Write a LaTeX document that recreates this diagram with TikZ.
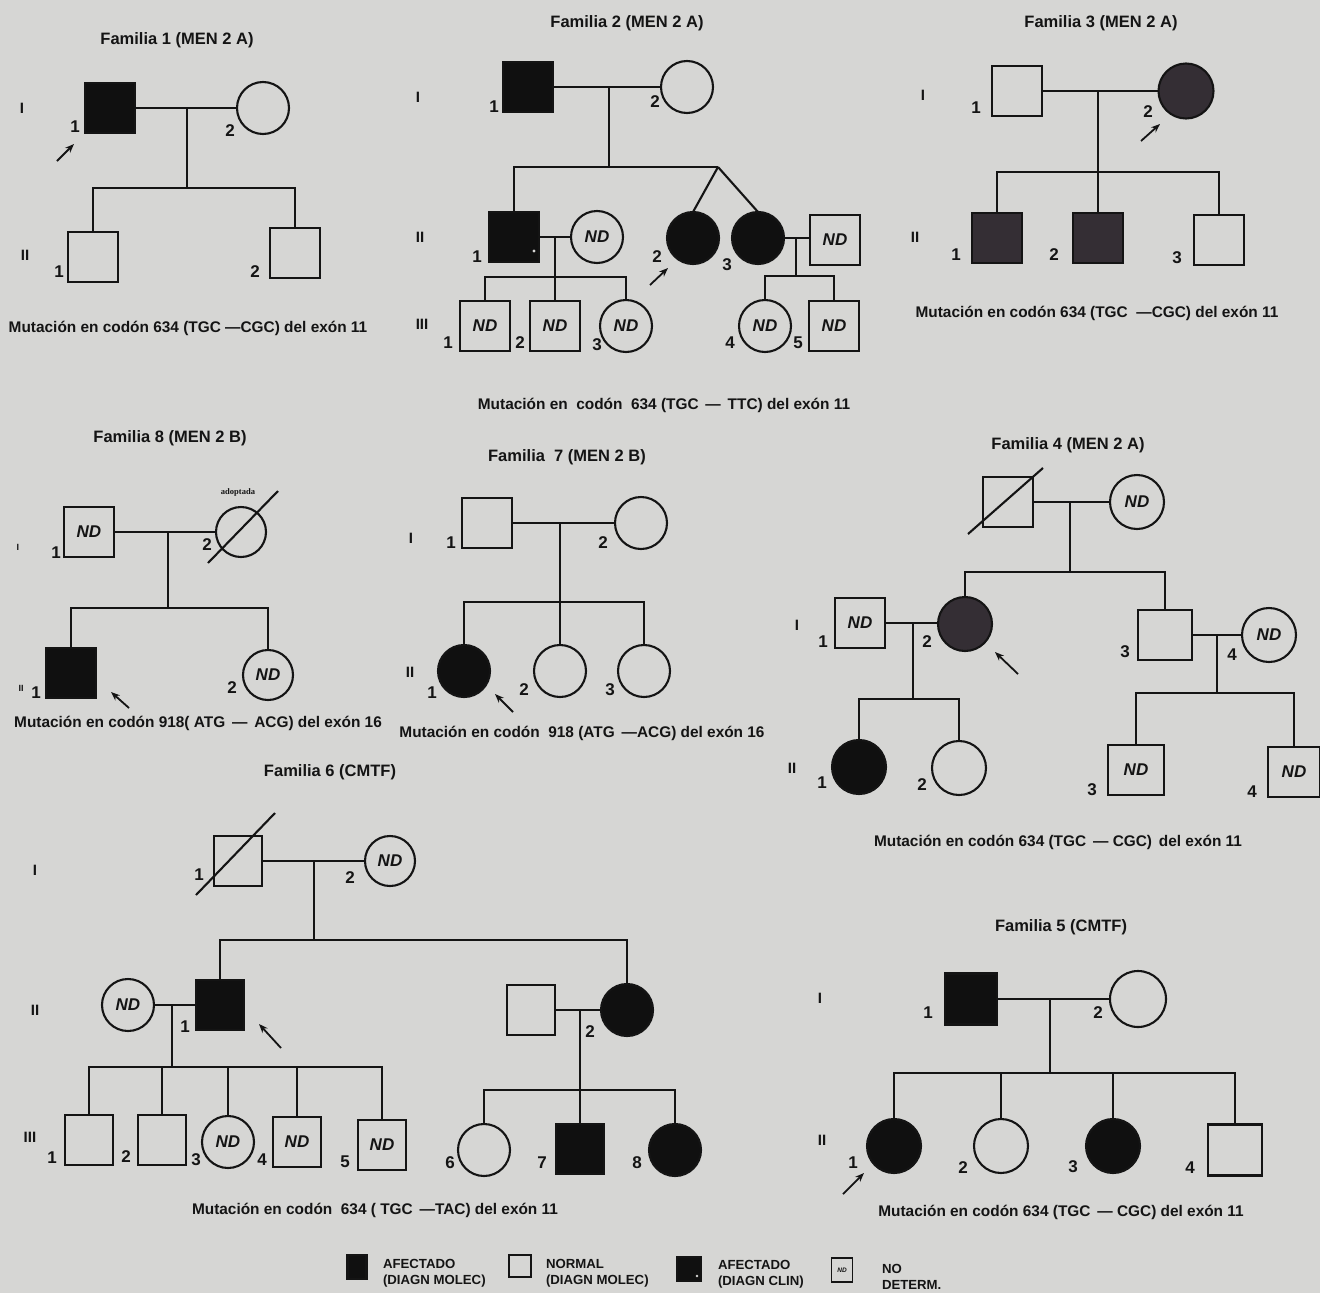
\documentclass[tikz,border=0pt]{standalone}
\usepackage{fontspec}
\setmainfont{Liberation Sans}
\newfontfamily\adserif{Liberation Serif}
\usetikzlibrary{arrows.meta}
\definecolor{bgc}{RGB}{214,214,212}
\definecolor{afc}{RGB}{16,16,16}
\definecolor{dkc}{RGB}{52,46,52}
\definecolor{lnc}{RGB}{20,20,20}
\newcommand\ttlf{\fontsize{16.5}{18}\selectfont\bfseries}
\newcommand\mutf{\fontsize{15.4}{17}\selectfont\bfseries}
\newcommand\numf{\fontsize{17}{19}\selectfont\bfseries}
\newcommand\ndfn{\fontsize{17}{19}\selectfont\bfseries\itshape}
\newcommand\genf{\fontsize{15}{16}\selectfont\bfseries}
\newcommand\lgf{\fontsize{13.2}{15.5}\selectfont\bfseries}
\begin{document}
\begin{tikzpicture}[x=1pt,y=-1pt,
  every node/.style={inner sep=0pt, outer sep=0pt, text=lnc},
  ln/.style={draw=lnc, line width=2.1pt},
  sq/.style={draw=lnc, line width=2.1pt, minimum width=50pt, minimum height=50pt},
  ci/.style={draw=lnc, circle, line width=2.1pt, minimum size=52pt},
  aff/.style={fill=afc},
  dk/.style={fill=dkc},
  nd/.style={font=\ndfn},
  num/.style={font=\numf},
  gen/.style={font=\genf},
  ttl/.style={font=\ttlf},
  mut/.style={font=\mutf},
  arr/.style={draw=lnc, line width=1.8pt, -{Stealth[length=9pt,width=7pt]}},
  lgt/.style={font=\lgf, align=left, anchor=west},
]
\fill[bgc] (0,0) rectangle (1320,1293);
\useasboundingbox (0,0) rectangle (1320,1293);

% ================= Familia 1
\node[ttl] (t1) at (177,40) {Familia 1 (MEN 2 A)};
\node[gen] (g1a) at (22,108) {I};
\node[gen] (g1b) at (25,255) {II};
\node[sq,aff] (f1a) at (110,108) {};
\node[ci] (f1b) at (263,108) {};
\node[sq] (f1c) at (93,257) {};
\node[sq] (f1d) at (295,253) {};
\coordinate (f1m) at (187,108);
\coordinate (f1s) at (187,188);
\draw[ln] (f1a) -- (f1b);
\draw[ln] (f1m) -- (f1s);
\draw[ln] (f1c.north) -- (f1c.north |- f1s) -- (f1d.north |- f1s) -- (f1d.north);
\node[num] (n1a) at (75,127) {1};
\node[num] (n1b) at (230,131) {2};
\node[num] (n1c) at (59,272) {1};
\node[num] (n1d) at (255,272) {2};
\coordinate (a1s) at (57,161); \coordinate (a1e) at (74,144);
\draw[arr] (a1s) -- (a1e);
\node[mut] (m1) at (188,328) {Mutación en codón 634 (TGC —CGC) del exón 11};

% ================= Familia 2
\node[ttl] (t2) at (627,23) {Familia 2 (MEN 2 A)};
\node[gen] (g2a) at (418,97) {I};
\node[gen] (g2b) at (420,237) {II};
\node[gen] (g2c) at (422,324) {III};
\node[sq,aff] (f2a) at (528,87) {};
\node[ci] (f2b) at (687,87) {};
\coordinate (f2m) at (609,87);
\coordinate (f2s) at (609,167);
\coordinate (f2ap) at (718,167);
\node[sq,aff] (f2c) at (514,237) {};
\node[ci,nd] (f2d) at (597,237) {ND};
\node[ci,aff] (f2e) at (693,238) {};
\node[ci,aff] (f2f) at (758,238) {};
\node[sq,nd] (f2g) at (835,240) {ND};
\draw[ln] (f2a) -- (f2b);
\draw[ln] (f2m) -- (f2s);
\draw[ln] (f2c.north) -- (f2c.north |- f2s) -- (f2ap);
\draw[ln] (f2ap) -- (f2e.north);
\draw[ln] (f2ap) -- (f2f.north);
\fill[bgc] (534,251) circle (1.6);
% II-1 x ND
\coordinate (f2m2) at (555,237);
\coordinate (f2s2) at (555,277);
\node[sq,nd] (f2h) at (485,326) {ND};
\node[sq,nd] (f2i) at (555,326) {ND};
\node[ci,nd] (f2j) at (626,326) {ND};
\draw[ln] (f2c) -- (f2d);
\draw[ln] (f2m2) -- (f2i.north);
\draw[ln] (f2h.north) -- (f2h.north |- f2s2) -- (f2j.north |- f2s2) -- (f2j.north);
% II-3 x ND
\coordinate (f2m3) at (796,238);
\coordinate (f2s3) at (796,276);
\node[ci,nd] (f2k) at (765,326) {ND};
\node[sq,nd] (f2l) at (834,326) {ND};
\draw[ln] (f2f.east) -- (f2f.east -| f2g.west);
\draw[ln] (f2m3) -- (f2s3);
\draw[ln] (f2k.north) -- (f2k.north |- f2s3) -- (f2l.north |- f2s3) -- (f2l.north);
\node[num] (n2a) at (494,107) {1};
\node[num] (n2b) at (655,102) {2};
\node[num] (n2c) at (477,257) {1};
\node[num] (n2d) at (657,257) {2};
\node[num] (n2e) at (727,265) {3};
\node[num] (n2f) at (448,343) {1};
\node[num] (n2g) at (520,343) {2};
\node[num] (n2h) at (597,345) {3};
\node[num] (n2i) at (730,343) {4};
\node[num] (n2j) at (798,343) {5};
\coordinate (a2s) at (650,285); \coordinate (a2e) at (668,268);
\draw[arr] (a2s) -- (a2e);
\node[mut] (m2) at (664,405) {Mutación en \ codón \ 634 (TGC \,— \,TTC) del exón 11};

% ================= Familia 3
\node[ttl] (t3) at (1101,23) {Familia 3 (MEN 2 A)};
\node[gen] (g3a) at (923,95) {I};
\node[gen] (g3b) at (915,237) {II};
\node[sq] (f3a) at (1017,91) {};
\node[ci,dk,minimum size=55pt] (f3b) at (1186,91) {};
\coordinate (f3m) at (1098,91);
\coordinate (f3s) at (1098,172);
\node[sq,dk] (f3c) at (997,238) {};
\node[sq,dk] (f3d) at (1098,238) {};
\node[sq] (f3e) at (1219,240) {};
\draw[ln] (f3a) -- (f3b);
\draw[ln] (f3m) -- (f3d.north);
\draw[ln] (f3c.north) -- (f3c.north |- f3s) -- (f3e.north |- f3s) -- (f3e.north);
\node[num] (n3a) at (976,108) {1};
\node[num] (n3b) at (1148,112) {2};
\node[num] (n3c) at (956,255) {1};
\node[num] (n3d) at (1054,255) {2};
\node[num] (n3e) at (1177,258) {3};
\coordinate (a3s) at (1141,141); \coordinate (a3e) at (1160,124);
\draw[arr] (a3s) -- (a3e);
\node[mut] (m3) at (1097,313) {Mutación en codón 634 (TGC \ —CGC) del exón 11};

% ================= Familia 8
\node[ttl] (t8) at (170,438) {Familia 8 (MEN 2 B)};
\node[gen,font=\fontsize{9}{10}\selectfont\bfseries] (g8a) at (18,547) {I};
\node[gen,font=\fontsize{9}{10}\selectfont\bfseries] (g8b) at (21,688) {II};
\node[sq,nd] (f8a) at (89,532) {ND};
\node[ci,minimum size=50pt] (f8b) at (241,532) {};
\coordinate (f8x1) at (208,563); \coordinate (f8x2) at (278,491);
\draw[ln] (f8x1) -- (f8x2);
\node[font=\adserif\bfseries\fontsize{8.5}{9}\selectfont] (ad8) at (238,492) {adoptada};
\coordinate (f8m) at (168,532);
\coordinate (f8s) at (168,608);
\node[sq,aff] (f8c) at (71,673) {};
\node[ci,nd,minimum size=50pt] (f8d) at (268,675) {ND};
\draw[ln] (f8a) -- (f8b);
\draw[ln] (f8m) -- (f8s);
\draw[ln] (f8c.north) -- (f8c.north |- f8s) -- (f8d.north |- f8s) -- (f8d.north);
\node[num] (n8a) at (56,553) {1};
\node[num] (n8b) at (207,545) {2};
\node[num] (n8c) at (36,693) {1};
\node[num] (n8d) at (232,688) {2};
\coordinate (a8s) at (129,708); \coordinate (a8e) at (111,692);
\draw[arr] (a8s) -- (a8e);
\node[mut] (m8) at (198,723) {Mutación en codón 918( ATG \,— \,ACG) del exón 16};

% ================= Familia 7
\node[ttl] (t7) at (567,457) {Familia \ 7 (MEN 2 B)};
\node[gen] (g7a) at (411,538) {I};
\node[gen] (g7b) at (410,672) {II};
\node[sq] (f7a) at (487,523) {};
\node[ci] (f7b) at (641,523) {};
\coordinate (f7m) at (560,523);
\coordinate (f7s) at (560,602);
\node[ci,aff] (f7c) at (464,671) {};
\node[ci] (f7d) at (560,671) {};
\node[ci] (f7e) at (644,671) {};
\draw[ln] (f7a) -- (f7b);
\draw[ln] (f7m) -- (f7d.north);
\draw[ln] (f7c.north) -- (f7c.north |- f7s) -- (f7e.north |- f7s) -- (f7e.north);
\node[num] (n7a) at (451,543) {1};
\node[num] (n7b) at (603,543) {2};
\node[num] (n7c) at (432,693) {1};
\node[num] (n7d) at (524,690) {2};
\node[num] (n7e) at (610,690) {3};
\coordinate (a7s) at (513,712); \coordinate (a7e) at (495,694);
\draw[arr] (a7s) -- (a7e);
\node[mut] (m7) at (582,733) {Mutación en codón \ 918 (ATG \,—ACG) del exón 16};

% ================= Familia 4
\node[ttl] (t4) at (1068,445) {Familia 4 (MEN 2 A)};
\node[gen] (g4a) at (797,625) {I};
\node[gen] (g4b) at (792,768) {II};
\node[sq] (f4a) at (1008,502) {};
\coordinate (f4x1) at (968,534); \coordinate (f4x2) at (1043,468);
\draw[ln] (f4x1) -- (f4x2);
\node[ci,nd,minimum size=54pt] (f4b) at (1137,502) {ND};
\coordinate (f4m) at (1070,502);
\coordinate (f4s) at (1070,572);
\node[sq,nd] (f4c) at (860,623) {ND};
\node[ci,dk,minimum size=54pt] (f4d) at (965,624) {};
\node[sq,minimum width=54pt] (f4g) at (1165,635) {};
\node[ci,nd,minimum size=54pt] (f4h) at (1269,635) {ND};
\draw[ln] (f4a) -- (f4b);
\draw[ln] (f4m) -- (f4s);
\draw[ln] (f4d.north) -- (f4d.north |- f4s) -- (f4g.north |- f4s) -- (f4g.north);
\coordinate (f4m2) at (913,623);
\coordinate (f4s2) at (913,699);
\node[ci,aff,minimum size=54pt] (f4e) at (859,767) {};
\node[ci,minimum size=54pt] (f4f) at (959,768) {};
\draw[ln] (f4c.east) -- (f4c.east -| f4d.west);
\draw[ln] (f4m2) -- (f4s2);
\draw[ln] (f4e.north) -- (f4e.north |- f4s2) -- (f4f.north |- f4s2) -- (f4f.north);
\coordinate (f4m3) at (1217,635);
\coordinate (f4s3) at (1217,693);
\node[sq,nd,minimum width=56pt] (f4i) at (1136,770) {ND};
\node[sq,nd,minimum width=52pt] (f4j) at (1294,772) {ND};
\draw[ln] (f4g) -- (f4h);
\draw[ln] (f4m3) -- (f4s3);
\draw[ln] (f4i.north) -- (f4i.north |- f4s3) -- (f4j.north |- f4s3) -- (f4j.north);
\node[num] (n4a) at (823,642) {1};
\node[num] (n4b) at (927,642) {2};
\node[num] (n4c) at (1125,652) {3};
\node[num] (n4d) at (1232,655) {4};
\node[num] (n4e) at (822,783) {1};
\node[num] (n4f) at (922,785) {2};
\node[num] (n4g) at (1092,790) {3};
\node[num] (n4h) at (1252,792) {4};
\coordinate (a4s) at (1018,674); \coordinate (a4e) at (995,652);
\draw[arr] (a4s) -- (a4e);
\node[mut] (m4) at (1058,842) {Mutación en codón 634 (TGC \,— CGC) \,del exón 11};

% ================= Familia 6
\node[ttl] (t6) at (330,772) {Familia 6 (CMTF)};
\node[gen] (g6a) at (35,870) {I};
\node[gen] (g6b) at (35,1010) {II};
\node[gen] (g6c) at (30,1137) {III};
\node[sq,minimum width=48pt] (f6a) at (238,861) {};
\coordinate (f6x1) at (196,895); \coordinate (f6x2) at (275,813);
\draw[ln] (f6x1) -- (f6x2);
\node[ci,nd,minimum size=50pt] (f6b) at (390,861) {ND};
\coordinate (f6m) at (314,861);
\coordinate (f6s) at (314,940);
\node[sq,aff,minimum width=48pt] (f6c) at (220,1005) {};
\node[ci,nd] (f6d) at (128,1005) {ND};
\node[ci,aff] (f6j) at (627,1010) {};
\node[sq,minimum width=48pt] (f6k) at (531,1010) {};
\draw[ln] (f6a) -- (f6b);
\draw[ln] (f6m) -- (f6s);
\draw[ln] (f6c.north) -- (f6c.north |- f6s) -- (f6j.north |- f6s) -- (f6j.north);
\coordinate (f6m2) at (172,1005);
\coordinate (f6s2) at (172,1067);
\node[sq,minimum width=48pt] (f6e) at (89,1140) {};
\node[sq,minimum width=48pt] (f6f) at (162,1140) {};
\node[ci,nd] (f6g) at (228,1142) {ND};
\node[sq,nd,minimum width=48pt] (f6h) at (297,1142) {ND};
\node[sq,nd,minimum width=48pt] (f6i) at (382,1145) {ND};
\draw[ln] (f6d) -- (f6c);
\draw[ln] (f6m2) -- (f6s2);
\draw[ln] (f6e.north) -- (f6e.north |- f6s2) -- (f6i.north |- f6s2) -- (f6i.north);
\draw[ln] (f6f.north) -- (f6f.north |- f6s2);
\draw[ln] (f6g.north) -- (f6g.north |- f6s2);
\draw[ln] (f6h.north) -- (f6h.north |- f6s2);
\coordinate (f6m3) at (580,1010);
\coordinate (f6s3) at (580,1090);
\node[ci] (f6l) at (484,1150) {};
\node[sq,aff,minimum width=48pt] (f6m) at (580,1149) {};
\node[ci,aff] (f6n) at (675,1150) {};
\draw[ln] (f6k) -- (f6j);
\draw[ln] (f6m3) -- (f6m.north);
\draw[ln] (f6l.north) -- (f6l.north |- f6s3) -- (f6n.north |- f6s3) -- (f6n.north);
\node[num] (n6a) at (199,875) {1};
\node[num] (n6b) at (350,878) {2};
\node[num] (n6c) at (185,1027) {1};
\node[num] (n6d) at (590,1032) {2};
\node[num] (n6e) at (52,1158) {1};
\node[num] (n6f) at (126,1157) {2};
\node[num] (n6g) at (196,1160) {3};
\node[num] (n6h) at (262,1160) {4};
\node[num] (n6i) at (345,1162) {5};
\node[num] (n6j) at (450,1163) {6};
\node[num] (n6k) at (542,1163) {7};
\node[num] (n6l) at (637,1163) {8};
\coordinate (a6s) at (281,1048); \coordinate (a6e) at (259,1024);
\draw[arr] (a6s) -- (a6e);
\node[mut] (m6) at (375,1210) {Mutación en codón \ 634 ( TGC \,—TAC) del exón 11};

% ================= Familia 5
\node[ttl] (t5) at (1061,927) {Familia 5 (CMTF)};
\node[gen] (g5a) at (820,998) {I};
\node[gen] (g5b) at (822,1140) {II};
\node[sq,aff,minimum width=52pt,minimum height=51pt] (f5a) at (971,999) {};
\node[ci,minimum size=56pt] (f5b) at (1138,999) {};
\coordinate (f5m) at (1050,999);
\coordinate (f5s) at (1050,1073);
\node[ci,aff,minimum size=54pt] (f5c) at (894,1146) {};
\node[ci,minimum size=54pt] (f5d) at (1001,1146) {};
\node[ci,aff,minimum size=54pt] (f5e) at (1113,1146) {};
\node[sq,minimum width=54pt,minimum height=51pt] (f5f) at (1235,1150) {};
\draw[ln] (f5a) -- (f5b);
\draw[ln] (f5m) -- (f5s);
\draw[ln] (f5c.north) -- (f5c.north |- f5s) -- (f5f.north |- f5s) -- (f5f.north);
\draw[ln] (f5d.north) -- (f5d.north |- f5s);
\draw[ln] (f5e.north) -- (f5e.north |- f5s);
\node[num] (n5a) at (928,1013) {1};
\node[num] (n5b) at (1098,1013) {2};
\node[num] (n5c) at (853,1163) {1};
\node[num] (n5d) at (963,1168) {2};
\node[num] (n5e) at (1073,1167) {3};
\node[num] (n5f) at (1190,1168) {4};
\coordinate (a5s) at (843,1194); \coordinate (a5e) at (864,1173);
\draw[arr] (a5s) -- (a5e);
\node[mut] (m5) at (1061,1212) {Mutación en codón 634 (TGC \,— CGC) del exón 11};

% ================= Legend
\node[sq,aff,minimum width=19pt,minimum height=24pt] (lg1) at (357,1267) {};
\node[lgt] (lt1) at (383,1273) {AFECTADO\\(DIAGN MOLEC)};
\node[sq,minimum width=22pt,minimum height=22pt,line width=1.6pt] (lg2) at (520,1266) {};
\node[lgt] (lt2) at (546,1273) {NORMAL\\(DIAGN MOLEC)};
\node[sq,aff,minimum width=24pt,minimum height=24pt] (lg3) at (689,1269) {};
\fill[bgc] (697,1276) circle (1.4);
\node[lgt] (lt3) at (718,1274) {AFECTADO\\(DIAGN CLIN)};
\node[sq,minimum width=21pt,minimum height=24pt,line width=1.6pt,font=\fontsize{6.5}{7}\selectfont\bfseries\itshape] (lg4) at (842,1270) {ND};
\node[lgt] (lt4) at (882,1277) {NO\\DETERM.};
\end{tikzpicture}
\end{document}
